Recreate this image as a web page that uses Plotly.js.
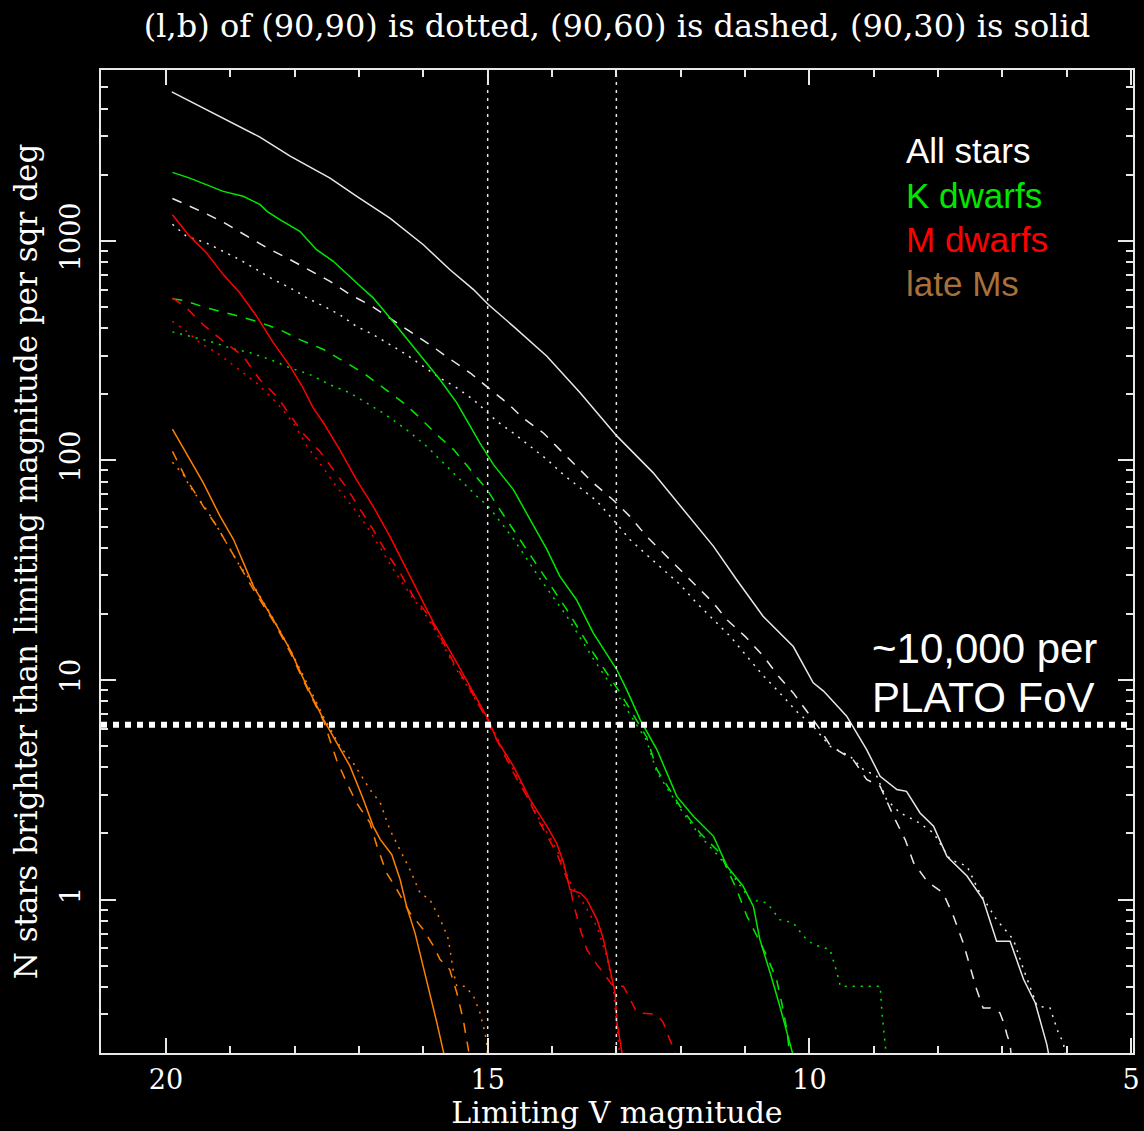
<!DOCTYPE html>
<html>
<head>
<meta charset="utf-8">
<script src="https://cdn.plot.ly/plotly-3.0.1.min.js"></script>
<style>
  html, body { margin: 0; padding: 0; background: #000; }
  #chart { width: 1144px; height: 1131px; }
</style>
</head>
<body>
<div id="chart"></div>
<script>
// ---------- DATA ----------
// All stars
const allSolidV = [19.91,19.37,19.0,18.54,18.07,17.45,17.04,16.52,16.0,15.59,15.22,14.99,14.6,14.08,13.56,12.99,12.43,12.01,11.49,11.13,10.72,10.25,9.94,9.78,9.42,9.11,8.9,8.64,8.49,8.28,8.07,7.86,7.55,7.3,7.09,6.88,6.67,6.49,6.31,6.27];
const allSolidN = [4770,3960,3480,2970,2430,1930,1600,1270,960,740,600,513,408,298,203,129,88,62,40.6,28.6,19.5,14.2,9.7,8.9,6.84,4.82,3.64,3.17,3.11,2.48,2.16,1.57,1.28,1.0,0.646,0.646,0.432,0.339,0.219,0.19];
const allDashV = [19.9,19.68,19.42,19.11,18.75,18.43,18.12,17.79,17.45,17.14,16.8,16.21,15.9,15.61,15.27,14.99,14.7,14.45,14.13,13.88,13.62,13.36,13.05,12.79,12.53,12.27,12.01,11.75,11.49,11.28,11.0,10.71,10.48,10.25,10.04,9.83,9.67,9.32,9.11,8.9,8.69,8.51,8.38,8.17,7.92,7.76,7.61,7.5,7.4,7.3,7.19,7.04,6.98,6.93,6.88,6.86];
const allDashN = [1560,1465,1349,1216,1050,929,836,740,654,570,504,387,337,293,250,214,183,156,133,112,94,79,66,55.6,45.1,37.9,31.8,26.7,22.4,18.8,15.8,12.8,10.4,8.73,7.2,5.94,4.99,4.34,3.52,3.28,2.39,1.87,1.47,1.21,1.07,0.84,0.636,0.497,0.389,0.321,0.321,0.305,0.275,0.243,0.219,0.19];
const allDotV = [19.9,19.68,19.37,19.11,18.85,18.59,18.33,18.07,17.81,17.55,17.3,17.04,16.78,16.52,16.26,16.0,15.74,15.48,15.22,14.86,14.6,14.34,14.08,13.82,13.56,13.3,13.05,12.79,12.53,12.27,12.01,11.75,11.49,11.23,10.97,10.71,10.46,10.2,9.94,9.68,9.37,9.16,8.95,8.8,8.59,8.33,8.07,7.81,7.55,7.35,7.09,6.83,6.67,6.46,6.26,6.13,6.05,6.02];
const allDotN = [1190,1048,977,895,820,739,666,611,550,504,461,408,374,337,303,268,237,214,189,151,133,116,101,86,75,65.2,53.8,43.6,37.2,31.8,27.2,22.4,18.8,15.8,12.8,10.4,8.73,7.2,6.15,4.99,4.5,3.91,3.64,2.85,2.48,2.27,2.01,1.52,1.42,1.07,0.81,0.658,0.48,0.327,0.321,0.247,0.222,0.19];

// K dwarfs
const kSolidV = [19.9,19.63,19.11,18.8,18.54,18.43,18.23,17.92,17.66,17.4,16.98,16.78,16.52,16.21,16.0,15.74,15.48,15.12,14.91,14.6,14.34,14.08,13.88,13.62,13.36,12.99,12.84,12.63,12.37,12.22,12.06,11.8,11.49,11.28,11.03,10.87,10.77,10.61,10.46,10.27,10.24];
const kSolidN = [2050,1930,1680,1595,1465,1363,1250,1105,912,807,621,550,446,343,288,233,183,120,95.7,73.6,53.8,39.3,29.7,23.2,16.4,11.1,9.04,6.6,4.82,3.78,2.95,2.39,1.94,1.42,1.15,0.93,0.658,0.464,0.327,0.204,0.19];
const kDashV = [19.9,19.73,19.37,18.95,18.59,18.23,17.92,17.55,17.24,16.93,16.62,16.31,16.05,15.79,15.53,15.27,15.01,14.81,14.6,14.19,13.77,13.36,12.94,12.53,12.37,12.01,11.7,11.39,11.13,10.97,10.66,10.51,10.43,10.35,10.3];
const kDashN = [545,536,495,461,430,394,355,320,283,250,214,183,156,131,112,90.8,73.6,59.7,48.4,31.8,20.9,13.3,8.73,5.5,3.91,2.66,2.01,1.63,1.11,0.84,0.552,0.432,0.339,0.256,0.19];
const kDotV = [19.9,19.63,19.32,19.0,18.69,18.38,18.07,17.76,17.45,17.14,16.88,16.62,16.26,15.95,15.69,15.43,15.17,14.99,14.6,14.19,13.77,13.36,12.94,12.53,12.37,12.01,11.7,11.39,11.03,10.92,10.66,10.46,10.25,10.09,9.94,9.68,9.57,9.52,8.9,8.87,8.8];
const kDotN = [385,367,349,325,309,288,264,246,221,203,183,164,138,116,97.5,81.8,68.7,61.8,44,29,19.5,12.5,8.2,5.3,3.8,2.6,1.95,1.55,1.1,1.0,0.966,0.81,0.783,0.68,0.624,0.592,0.464,0.403,0.403,0.3,0.19];

// M dwarfs
const mSolidV = [19.9,19.63,19.37,19.11,18.85,18.59,18.33,18.07,17.87,17.71,17.55,17.3,17.04,16.78,16.52,16.26,16.0,15.84,15.69,15.48,15.22,14.99,14.86,14.6,14.34,14.08,13.93,13.82,13.72,13.56,13.46,13.3,13.2,13.1,13.02,12.99,12.92,12.9];
const mSolidN = [1316,1048,881,702,579,453,343,268,214,173,148,112,81.8,61.8,45.1,31.8,22.4,18.2,15.3,12.0,8.73,6.6,5.35,4.05,2.85,2.16,1.81,1.47,1.11,1.07,1.0,0.81,0.658,0.48,0.376,0.275,0.204,0.19];
const mDashV = [19.9,19.68,19.42,19.11,18.8,18.54,18.28,18.07,17.87,17.61,17.4,17.19,16.98,16.78,16.57,16.36,16.16,15.95,15.74,15.53,15.27,15.07,14.6,14.39,14.19,13.93,13.72,13.67,13.56,13.46,13.36,13.2,13.05,12.89,12.79,12.68,12.37,12.27,12.17,12.09,12.07];
const mDashN = [550,495,415,349,298,233,196,161,133,110,90.8,75,59.7,48.4,37.9,30.8,24.1,20.2,15.8,12.0,9.04,7.08,3.78,2.95,2.24,1.63,1.15,0.966,0.73,0.592,0.533,0.464,0.403,0.403,0.351,0.305,0.30,0.275,0.23,0.204,0.19];
const mDotV = [19.9,19.68,19.47,19.21,19.0,18.8,18.59,18.38,18.18,17.98,17.81,17.55,17.35,17.09,16.88,16.67,16.47,16.16,15.95,15.74,15.53,15.27,15.0,14.6,14.39,14.19,13.93,13.72,13.5,13.3,13.15,13.05,13.0,12.95,12.93];
const mDotN = [430,387,343,309,278,250,225,196,170,142,116,92,76,61,50,40,32,23.5,19.5,15.3,11.7,8.9,6.6,3.9,3.0,2.3,1.7,1.2,0.95,0.75,0.55,0.40,0.28,0.2,0.19];

// late Ms
const lSolidV = [19.9,19.68,19.42,19.16,18.95,18.64,18.33,18.07,17.81,17.55,17.4,17.14,16.93,16.78,16.67,16.49,16.36,16.26,16.13,16.0,15.9,15.79,15.69,15.67];
const lSolidN = [139,108,79,55.7,43.6,26.7,18.8,13.7,9.35,6.6,5.54,4.05,2.85,2.16,1.88,1.6,1.23,0.93,0.705,0.497,0.376,0.275,0.204,0.19];
const lDashV = [19.9,19.78,19.68,19.58,19.42,19.21,19.06,18.9,18.75,18.64,18.33,18.07,17.81,17.55,17.35,17.19,17.04,16.83,16.72,16.57,16.41,16.21,16.0,15.84,15.74,15.59,15.48,15.38,15.3,15.28];
const lDashN = [110,94,81.8,73.6,61.8,50.1,42.1,35.3,29.7,25.8,18.5,13.4,9.2,6.5,4.34,3.4,2.76,2.24,1.75,1.32,1.11,0.87,0.73,0.613,0.533,0.48,0.376,0.284,0.207,0.19];
const lDotV = [19.9,19.73,19.63,19.52,19.37,19.21,19.06,18.85,18.69,18.33,18.07,17.81,17.55,17.3,17.09,16.83,16.67,16.52,16.36,16.21,16.05,15.9,15.79,15.69,15.61,15.53,15.48,15.35,15.22,15.12,15.04,15.01,15.0];
const lDotN = [98,86,76.2,68.7,59.7,50.1,42.1,33,28.6,19,13.8,9.6,6.8,5.0,4.19,3.17,2.76,2.08,1.69,1.37,1.07,1.0,0.87,0.756,0.658,0.464,0.403,0.403,0.363,0.305,0.247,0.215,0.19];

// reference lines
const vlineMags = [15, 13];
const platoLimitN = 6.25;

// axis ticks
const xTickVals = [20, 15, 10, 5];
const xTickText = ["20", "15", "10", "5"];
const yTickVals = [1, 10, 100, 1000];
const yTickText = ["1", "10", "100", "1000"];

// labels
const titleText = "(l,b) of (90,90) is dotted, (90,60) is dashed, (90,30) is solid";
const xTitle = "Limiting V magnitude";
const yTitle = "N stars brighter than limiting magnitude per sqr deg";
const legendLabels = ["All stars", "K dwarfs", "M dwarfs", "late Ms"];
const platoLines = ["~10,000 per", "PLATO FoV"];

// ---------- STYLE ----------
const WHITE = "#e8e8e8";
const GREEN = "#00e800";
const RED = "#ff0000";
const ORANGE = "#ff8000";
const BROWN = "#a8703a";
const DOT = "2px,6px";
const DASH = "10px,9px";
const LW = 1.5;

function tr(x, y, color, dash) {
  return { x: x, y: y, type: "scatter", mode: "lines", showlegend: false, hoverinfo: "skip",
           line: { color: color, width: LW, dash: dash } };
}

const xRange = [21.01, 4.97];
const yRangeLin = [0.2, 6000];

// minor y ticks
const yMinor = [];
[0.1, 1, 10, 100, 1000].forEach(d => { for (let k = 2; k <= 9; k++) { const v = k * d; if (v >= 0.2 && v <= 6000) yMinor.push(v); } });

const traces = [
  tr(allSolidV, allSolidN, WHITE, "solid"),
  tr(allDashV, allDashN, WHITE, DASH),
  tr(allDotV, allDotN, WHITE, DOT),
  tr(kSolidV, kSolidN, GREEN, "solid"),
  tr(kDashV, kDashN, GREEN, DASH),
  tr(kDotV, kDotN, GREEN, DOT),
  tr(mSolidV, mSolidN, RED, "solid"),
  tr(mDashV, mDashN, RED, DASH),
  tr(mDotV, mDotN, RED, DOT),
  tr(lSolidV, lSolidN, ORANGE, "solid"),
  tr(lDashV, lDashN, ORANGE, DASH),
  tr(lDotV, lDotN, ORANGE, DOT)
];
vlineMags.forEach(m => {
  traces.push({ x: [m, m], y: yRangeLin, type: "scatter", mode: "lines", showlegend: false, hoverinfo: "skip",
                line: { color: WHITE, width: 1.5, dash: "3px,5px" } });
});
traces.push({ x: xRange, y: [platoLimitN, platoLimitN], type: "scatter", mode: "lines", showlegend: false, hoverinfo: "skip",
              line: { color: "#ffffff", width: 6, dash: "6px,6px" } });

const serif = "DejaVu Serif, serif";
const sans = "Liberation Sans, Arial, sans-serif";

const axisCommon = {
  showline: true, linecolor: WHITE, linewidth: 2, mirror: "allticks",
  ticks: "inside", ticklen: 15, tickwidth: 2, tickcolor: WHITE,
  showgrid: false, zeroline: false,
  tickfont: { family: serif, size: 27, color: "#ffffff" }
};

const legendColors = ["#ffffff", GREEN, RED, BROWN];
const legendY = [0.9176, 0.8728, 0.8271, 0.7833];
const annotations = legendLabels.map((t, i) => ({
  text: t, xref: "paper", yref: "paper", x: 0.778, y: legendY[i], xanchor: "left", yanchor: "middle",
  showarrow: false, font: { family: sans, size: 35, color: legendColors[i] }
}));
const platoY = [0.4114, 0.3615];
platoLines.forEach((t, i) => annotations.push({
  text: t, xref: "paper", yref: "paper", x: 0.745, y: platoY[i], xanchor: "left", yanchor: "middle",
  showarrow: false, font: { family: sans, size: 42, color: "#ffffff" }
}));

const layout = {
  width: 1144, height: 1131,
  paper_bgcolor: "#000000", plot_bgcolor: "#000000",
  margin: { l: 101, r: 11, t: 70, b: 78 },
  title: { text: titleText, font: { family: serif, size: 32, color: "#ffffff" },
           xref: "paper", x: 0.5, xanchor: "center", yref: "container", y: 0.977, yanchor: "middle" },
  xaxis: Object.assign({}, axisCommon, {
    range: xRange, tickmode: "array", tickvals: xTickVals, ticktext: xTickText,
    ticklabelstandoff: 2,
    minor: { dtick: 1, tick0: 0, ticks: "inside", ticklen: 7, tickwidth: 2, tickcolor: WHITE },
    title: { text: xTitle, font: { family: serif, size: 30, color: "#ffffff" }, standoff: 2 }
  }),
  yaxis: Object.assign({}, axisCommon, {
    type: "log", range: [Math.log10(yRangeLin[0]), Math.log10(yRangeLin[1])],
    tickmode: "array", tickvals: yTickVals, ticktext: yTickText, tickangle: -90,
    ticklabelstandoff: 8,
    minor: { tickmode: "array", tickvals: yMinor, ticks: "inside", ticklen: 7, tickwidth: 2, tickcolor: WHITE },
    title: { text: yTitle, font: { family: serif, size: 31, color: "#ffffff" }, standoff: 8 }
  }),
  annotations: annotations
};

Plotly.newPlot("chart", traces, layout, { displayModeBar: false, staticPlot: true });
</script>
</body>
</html>
